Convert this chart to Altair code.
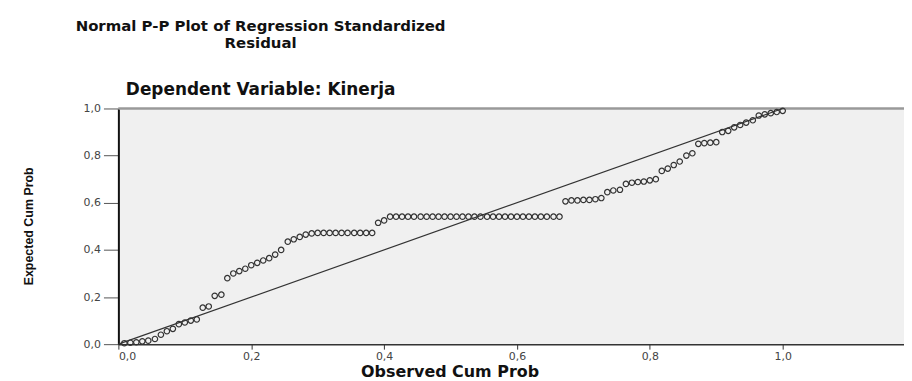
import altair as alt
import pandas as pd

# Observed cumulative probability (x) and expected cumulative probability (y)
obs_rise = [0.009, 0.018, 0.027, 0.036, 0.045, 0.055, 0.064, 0.073, 0.082, 0.091,
            0.100, 0.109, 0.118, 0.127, 0.136, 0.145, 0.155, 0.164, 0.173, 0.182,
            0.191, 0.200, 0.209, 0.218, 0.227, 0.236, 0.245, 0.255, 0.264, 0.273]
exp_rise = [0.004, 0.006, 0.008, 0.012, 0.015, 0.022, 0.040, 0.055, 0.065, 0.085,
            0.092, 0.100, 0.105, 0.155, 0.160, 0.205, 0.210, 0.280, 0.300, 0.310,
            0.320, 0.335, 0.345, 0.355, 0.365, 0.380, 0.400, 0.435, 0.445, 0.455]

obs_flat1 = [0.282, 0.291, 0.300, 0.309, 0.318, 0.327, 0.336, 0.345, 0.355, 0.364, 0.373, 0.382]
exp_flat1 = [0.465, 0.470, 0.472, 0.472, 0.472, 0.472, 0.472, 0.472, 0.472, 0.472, 0.472, 0.472]

obs_step = [0.391, 0.400]
exp_step = [0.515, 0.525]

obs_flat2 = [0.409, 0.418, 0.427, 0.436, 0.445, 0.455, 0.464, 0.473, 0.482, 0.491,
             0.500, 0.509, 0.518, 0.527, 0.536, 0.545, 0.555, 0.564, 0.573, 0.582,
             0.591, 0.600, 0.609, 0.618, 0.627, 0.636, 0.645, 0.655, 0.664]
exp_flat2 = [0.541] * 29

obs_flat3 = [0.673, 0.682, 0.691, 0.700, 0.709, 0.718, 0.727]
exp_flat3 = [0.606, 0.610, 0.610, 0.612, 0.612, 0.615, 0.620]

obs_top = [0.736, 0.745, 0.755, 0.764, 0.773, 0.782, 0.791, 0.800, 0.809, 0.818,
           0.827, 0.836, 0.845, 0.855, 0.864, 0.873, 0.882, 0.891, 0.900, 0.909,
           0.918, 0.927, 0.936, 0.945, 0.955, 0.964, 0.973, 0.982, 0.991, 1.000]
exp_top = [0.645, 0.652, 0.655, 0.680, 0.685, 0.688, 0.690, 0.695, 0.700, 0.735,
           0.745, 0.760, 0.775, 0.800, 0.810, 0.850, 0.853, 0.855, 0.857, 0.900,
           0.905, 0.920, 0.930, 0.940, 0.950, 0.970, 0.975, 0.980, 0.985, 0.990]

ref_x = [0.0, 1.0]
ref_y = [0.0, 1.0]

tick_values = [0.0, 0.2, 0.4, 0.6, 0.8, 1.0]

points = pd.DataFrame({
    "obs": obs_rise + obs_flat1 + obs_step + obs_flat2 + obs_flat3 + obs_top,
    "exp": exp_rise + exp_flat1 + exp_step + exp_flat2 + exp_flat3 + exp_top,
})
ref = pd.DataFrame({"obs": ref_x, "exp": ref_y})

W, H = 790, 237
label_expr = "replace(format(datum.value, '.1f'), '.', ',')"

x_enc = alt.X(
    "obs:Q",
    scale=alt.Scale(domain=[0, 1.1826], nice=False, zero=False),
    axis=alt.Axis(
        values=tick_values, labelExpr=label_expr, grid=False,
        title="Observed Cum Prob", titleX=333, titleY=33,
        titleBaseline="alphabetic", titleAlign="center",
        titleFont="DejaVu Sans", titleFontSize=16, titleFontWeight="bold",
        titleColor="#111",
        labelFont="DejaVu Sans", labelFontSize=11, labelColor="#444",
        labelPadding=1, tickSize=5, tickColor="#333",
        domainColor="#333", domainWidth=1.5,
    ),
)
y_enc = alt.Y(
    "exp:Q",
    scale=alt.Scale(domain=[0, 1], nice=False, zero=False),
    axis=alt.Axis(
        values=tick_values, labelExpr=label_expr, grid=False,
        title="Expected Cum Prob", titleX=-90, titleY=118,
        titleAngle=270, titleBaseline="middle", titleAlign="center",
        titleFont="Liberation Sans Narrow, Liberation Sans, Arial, sans-serif",
        titleFontSize=12.5, titleFontWeight="bold", titleColor="#111",
        labelFont="DejaVu Sans", labelFontSize=11, labelColor="#444",
        labelPadding=3, tickSize=15, tickColor="#555",
        domainColor="#111", domainWidth=2,
    ),
)

border = alt.Chart(ref).mark_rule(color="#999", strokeWidth=2).encode(
    x=alt.value(0), x2=alt.value(W), y=alt.value(0)
)

diag = alt.Chart(ref).mark_line(color="#333", strokeWidth=1.2).encode(x=x_enc, y=y_enc)

dots = alt.Chart(points).mark_point(
    shape="circle", filled=False, size=30, color="#333", strokeWidth=1.2, opacity=1
).encode(x=x_enc, y=y_enc)

chart = alt.layer(border, diag, dots).properties(
    width=W,
    height=H,
    padding={"left": 111, "top": 100, "right": 0, "bottom": 35},
    autosize=alt.AutoSizeParams(type="none"),
    title=alt.TitleParams(
        text=["Normal P-P Plot of Regression Standardized", "Residual"],
        subtitle="Dependent Variable: Kinerja",
        anchor="middle", dx=-252,
        font="DejaVu Sans", fontSize=15, fontWeight="bold", color="#111",
        lineHeight=17,
        subtitleFont="DejaVu Sans", subtitleFontSize=17, subtitleFontWeight="bold",
        subtitleColor="#111", subtitlePadding=31, offset=5,
    ),
    background="white",
).configure_view(fill="#f0f0f0", stroke="transparent")

chart.save("out.html", embed_options={"renderer": "svg", "actions": False})
